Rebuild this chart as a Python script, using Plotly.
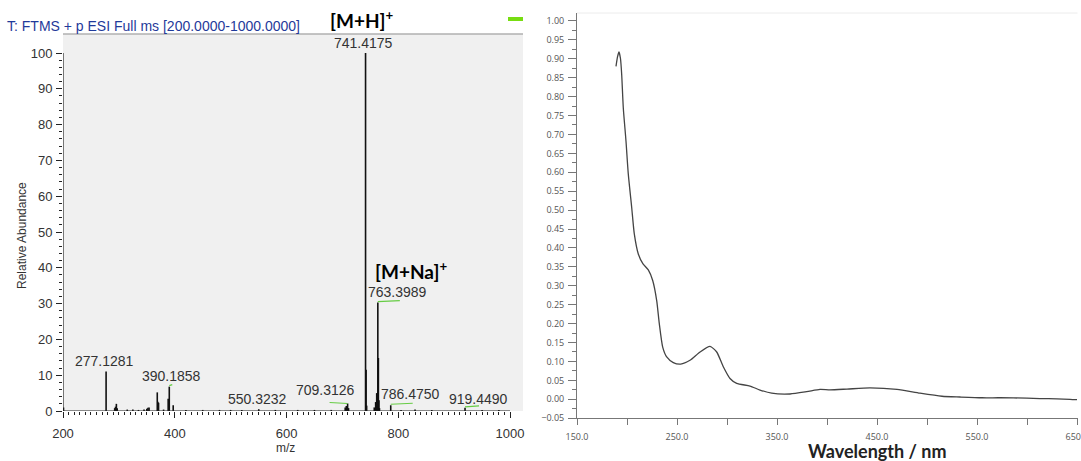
import plotly.graph_objects as go

# ---------------- data ----------------
# Mass spectrum (left): m/z and relative abundance
ms_mz = [200.9, 277.13, 292.5, 294.0, 295.5, 297.0, 315.0, 325.0, 335.0, 345.0,
         350.0, 352.0, 354.0, 368.7, 369.7, 371.0, 380.0, 388.2, 390.19, 397.2,
         420.0, 450.0, 480.0, 500.0, 520.0, 550.32, 580.0, 620.0, 650.0, 680.0,
         705.0, 707.0, 709.31, 711.0, 741.42, 742.42, 743.4, 757.0, 759.5, 761.4,
         763.40, 764.40, 765.4, 766.4, 786.48, 805.0, 830.0, 860.0, 919.45, 950.0, 980.0]
ms_int = [1.0, 11.0, 0.8, 1.2, 2.0, 0.8, 0.4, 0.4, 0.3, 0.4,
          0.6, 0.9, 1.0, 5.2, 2.6, 2.3, 0.4, 3.4, 6.8, 1.6,
          0.3, 0.3, 0.3, 0.3, 0.3, 0.5, 0.3, 0.3, 0.3, 0.3,
          1.0, 1.4, 2.1, 0.8, 100.0, 11.5, 1.5, 1.0, 2.5, 5.0,
          30.3, 14.8, 3.0, 0.8, 1.6, 0.3, 0.4, 0.3, 0.9, 0.3, 0.3]

# labelled peaks: m/z, label text, label offset (px)
lab_mz = [741.42, 763.40, 277.13, 390.19, 550.32, 709.31, 786.48, 919.45]
lab_txt = ["741.4175", "763.3989", "277.1281", "390.1858", "550.3232", "709.3126", "786.4750", "919.4490"]
lab_dx = [-2, 20, -2, 2, -1, -22, 20, 13]
lab_dy = [0, 1, 1, 1, 0, 3, 1, -1]
green_mz = [763.40, 709.31, 786.48, 919.45, 390.19]

# UV-Vis spectrum (right)
uv_wl = [189, 190.5, 192, 193.5, 194.7, 196.3, 199, 201.3, 204.7, 207.3, 211.3, 216,
         221.3, 225.7, 229.7, 232.3, 235.7, 239.7, 246.3, 253.7, 263, 273, 283, 289.7,
         296.3, 303, 309.7, 323, 333, 344.7, 363, 379.7, 393, 403, 420, 443, 470, 493,
         515, 533, 555, 573, 600, 613, 630, 643, 650]
uv_abs = [0.88, 0.905, 0.918, 0.90, 0.858, 0.77, 0.682, 0.595, 0.507, 0.437, 0.384, 0.358,
          0.342, 0.314, 0.261, 0.20, 0.138, 0.112, 0.097, 0.093, 0.103, 0.125, 0.140, 0.125,
          0.086, 0.055, 0.042, 0.035, 0.0245, 0.016, 0.014, 0.020, 0.026, 0.025, 0.027, 0.030,
          0.026, 0.016, 0.008, 0.006, 0.004, 0.004, 0.003, 0.002, 0.001, 0.0, -0.001]

# ---------------- figure ----------------
W, H = 1081, 461
fig = go.Figure()

stick_x, stick_y = [], []
for m, i in zip(ms_mz, ms_int):
    stick_x += [m, m, None]
    stick_y += [0, i, None]
fig.add_trace(go.Scatter(x=stick_x, y=stick_y, mode="lines",
                         line=dict(color="#111111", width=1.6),
                         xaxis="x", yaxis="y", hoverinfo="skip", showlegend=False))

fig.add_trace(go.Scatter(x=uv_wl, y=uv_abs, mode="lines",
                         line=dict(color="#444444", width=1.3, shape="spline", smoothing=0.6),
                         xaxis="x2", yaxis="y2", showlegend=False))

TXT = "#333333"
lfont = dict(family="Liberation Sans, Arial", size=13, color=TXT)

fig.update_layout(
    template="none",
    width=W, height=H,
    margin=dict(l=0, r=0, t=0, b=0, pad=0),
    paper_bgcolor="white", plot_bgcolor="white",
    showlegend=False,
    xaxis=dict(domain=[63 / W, 523 / W], range=[200, 200 + 460 / 0.5588], anchor="y",
               automargin=False,
               showgrid=False, zeroline=False, showline=False,
               tickmode="array", tickvals=list(range(200, 1001, 50)),
               ticktext=[str(v) if v % 200 == 0 else "" for v in range(200, 1001, 50)],
               ticks="outside", ticklen=6, tickwidth=1, tickcolor="#222",
               ticklabelstandoff=4, tickfont=lfont,
               minor=dict(tickmode="array", tickvals=list(range(200, 1001, 10)),
                          ticks="outside", ticklen=3, tickcolor="#222", showgrid=False)),
    xaxis3=dict(overlaying="x", anchor="y", range=[200, 200 + 460 / 0.5588],
                automargin=False,
                showgrid=False, zeroline=False, showline=False,
                tickmode="array", tickvals=list(range(200, 1001, 200)),
                ticks="outside", ticklen=8, tickwidth=1, tickcolor="#222",
                showticklabels=False),
    yaxis=dict(domain=[1 - 411 / H, 1 - 34 / H], range=[0, 377 / 3.58], anchor="x",
               automargin=False,
               showgrid=False, zeroline=False, showline=False,
               tickmode="array", tickvals=list(range(0, 101, 10)),
               ticks="outside", ticklen=6, tickwidth=1, tickcolor="#222",
               ticklabelstandoff=1, tickfont=lfont,
               minor=dict(tickmode="array", tickvals=list(range(0, 101, 2)),
                          ticks="outside", ticklen=3, tickcolor="#222", showgrid=False)),
    xaxis2=dict(domain=[577 / W, 1077.5 / W], range=[150, 650.5], anchor="y2",
                automargin=False, ticklabeloverflow="allow",
                showgrid=False, zeroline=False, showline=True, linecolor="#777", linewidth=1,
                tickmode="array", tickvals=list(range(150, 651, 50)),
                ticktext=[f"{v}.0" if (v - 150) % 100 == 0 else "" for v in range(150, 651, 50)],
                ticks="outside", ticklen=6, tickcolor="#777",
                ticklabelstandoff=4,
                tickfont=dict(family="Open Sans", size=9, color="#555")),
    yaxis2=dict(domain=[1 - 418.2 / H, 1 - 13 / H], range=[-0.05, 1.021], anchor="x2",
                automargin=False,
                showgrid=False, zeroline=False, showline=True, linecolor="#777", linewidth=1,
                tickmode="array", tickvals=[k * 0.05 for k in range(-1, 21)],
                tickformat=".2f",
                ticks="outside", ticklen=8, tickcolor="#777",
                ticklabelstandoff=2,
                tickfont=dict(family="Open Sans", size=9, color="#555"),
                minor=dict(tickmode="array", tickvals=[k * 0.025 for k in range(-2, 41)],
                           ticks="outside", ticklen=4, tickcolor="#777", showgrid=False)),
)

shapes = [
    # grey plot background of the mass spectrum
    dict(type="rect", xref="x domain", yref="y domain", x0=0, x1=1, y0=0, y1=1,
         fillcolor="#f0f0f0", line=dict(width=0), layer="below"),
    dict(type="line", xref="x domain", yref="y domain", x0=0, x1=1, y0=1, y1=1,
         line=dict(color="#b0b0b0", width=1.5)),
    # axis lines of the mass spectrum
    dict(type="line", xref="x", yref="y", x0=200, x1=1000, y0=0, y1=0,
         line=dict(color="#222", width=1.2)),
    dict(type="line", xref="x", yref="y", x0=200, x1=200, y0=0, y1=100,
         line=dict(color="#222", width=1.2)),
    # faint frame of the UV panel
    dict(type="line", xref="x2 domain", yref="y2 domain", x0=0, x1=1, y0=1, y1=1,
         line=dict(color="#ececec", width=1)),
    # tiny green marker at top right of MS panel
    dict(type="rect", xref="paper", yref="paper", x0=508 / W, x1=523 / W,
         y0=1 - 21 / H, y1=1 - 17 / H, fillcolor="#77dd11", line=dict(width=0)),
]
# green leader marks under some labels
green_dx = {763.40: (0, 22), 709.31: (-18, 0), 786.48: (0, 22), 919.45: (0, 14), 390.19: (0, 3)}
for m in green_mz:
    i = ms_int[ms_mz.index(m)]
    d0, d1 = green_dx[m]
    shapes.append(dict(type="line", xref="x", yref="y", xsizemode="pixel", ysizemode="pixel",
                       xanchor=m, yanchor=i, x0=d0, x1=d1, y0=1, y1=2 if d1 else 0,
                       line=dict(color="#66cc44", width=1.2)))
fig.update_layout(shapes=shapes)

ann = []
for m, t, dx, dy in zip(lab_mz, lab_txt, lab_dx, lab_dy):
    i = ms_int[ms_mz.index(m)]
    ann.append(dict(x=m, y=i, xref="x", yref="y", text=t, showarrow=False,
                    yanchor="bottom", xanchor="center", xshift=dx, yshift=dy,
                    font=dict(family="Liberation Sans, Arial", size=14, color=TXT)))
ann += [
    dict(x=5 / W, y=1 - 26 / H, xref="paper", yref="paper", xanchor="left", yanchor="middle",
         text="T: FTMS + p ESI Full ms [200.0000-1000.0000]", showarrow=False,
         font=dict(family="Liberation Sans, Arial", size=14, color="#1f3a9a")),
    dict(x=362 / W, y=1 - 19 / H, xref="paper", yref="paper", xanchor="center", yanchor="middle",
         text="<b>[M+H]</b><sup><b>+</b></sup>", showarrow=False,
         font=dict(family="Lato", size=19, color="black")),
    dict(x=411 / W, y=1 - 270 / H, xref="paper", yref="paper", xanchor="center", yanchor="middle",
         text="<b>[M+Na]</b><sup><b>+</b></sup>", showarrow=False,
         font=dict(family="Lato", size=19, color="black")),
    dict(x=22 / W, y=1 - 236 / H, xref="paper", yref="paper", xanchor="center", yanchor="middle",
         text="Relative Abundance", textangle=-90, showarrow=False,
         font=dict(family="Liberation Sans, Arial", size=12, color=TXT)),
    dict(x=285 / W, y=1 - 448 / H, xref="paper", yref="paper", xanchor="center", yanchor="middle",
         text="m/z", showarrow=False,
         font=dict(family="Liberation Sans, Arial", size=12, color=TXT)),
    dict(x=877 / W, y=1 - 451 / H, xref="paper", yref="paper", xanchor="center", yanchor="middle",
         text="<b>Wavelength / nm</b>", showarrow=False,
         font=dict(family="Lato", size=18, color="#222")),
]
fig.update_layout(annotations=ann)

fig.write_html("out.html", config={"displayModeBar": False},
               post_script="document.body.style.margin='0';document.body.style.overflow='hidden';")
